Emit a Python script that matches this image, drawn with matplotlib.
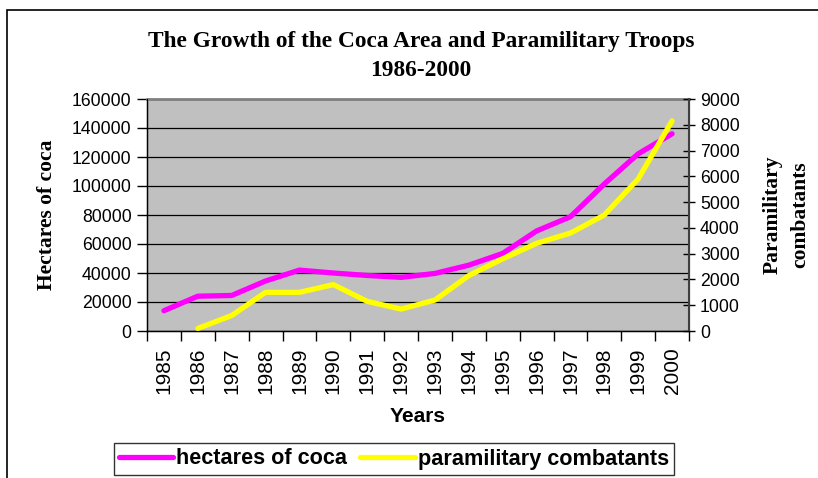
import matplotlib
matplotlib.use("Agg")
import matplotlib.pyplot as plt
import numpy as np
from matplotlib.patches import Rectangle

years = ["1985", "1986", "1987", "1988", "1989", "1990", "1991", "1992",
         "1993", "1994", "1995", "1996", "1997", "1998", "1999", "2000"]
hectares = [14000, 24000, 24500, 34500, 42000, 40000, 38300, 37000,
            39700, 45400, 53500, 69000, 78800, 101400, 122200, 136000]
combatants = [np.nan, 100, 600, 1500, 1500, 1800, 1150, 850,
              1200, 2150, 2800, 3400, 3800, 4500, 5900, 8150]

W, H = 818, 478
fig = plt.figure(figsize=(W / 100, H / 100), dpi=100)
fig.patch.set_facecolor("white")

# outer chart frame
fig.add_artist(Rectangle((7 / W, -0.05), 1.2, 1 - 10 / H + 0.05,
                         transform=fig.transFigure, fill=False,
                         edgecolor="black", linewidth=1.2))

L, R, T, B = 147, 689, 99, 331
ax = fig.add_axes([L / W, 1 - B / H, (R - L) / W, (B - T) / H])
ax.set_facecolor("#C0C0C0")
x = np.arange(len(years))

serif = ["Liberation Serif", "DejaVu Serif"]
sans = ["Liberation Sans", "DejaVu Sans"]

l1, = ax.plot(x, hectares, color="#FF00FF", linewidth=3.8,
              solid_capstyle="round", label="hectares of coca", zorder=3)
ax.set_ylim(0, 160000)
ax.set_yticks(np.arange(0, 160001, 20000))
ax.set_xlim(-0.5, len(years) - 0.5)
ax.set_xticks(x)
ax.set_xticklabels(years, rotation=90, fontsize=15, family=sans)
ax.set_xticks(np.arange(-0.5, len(years), 1.0), minor=True)
ax.tick_params(axis="x", which="major", length=0, pad=12)
ax.tick_params(axis="x", which="minor", length=7, width=1, direction="out")
ax.tick_params(axis="y", length=7, width=1, direction="out", labelsize=12.7, pad=4)
for lab in ax.get_yticklabels():
    lab.set_family(sans)
ax.grid(axis="y", color="black", linewidth=0.9)
ax.set_axisbelow(True)
ax.spines["top"].set_color("#808080")
ax.spines["top"].set_linewidth(2)
ax.spines["left"].set_linewidth(1)
ax.spines["bottom"].set_linewidth(1)

ax2 = ax.twinx()
l2, = ax2.plot(x, combatants, color="#FFFF00", linewidth=3.8,
               solid_capstyle="round", label="paramilitary combatants", zorder=3)
ax2.set_ylim(0, 9000)
ax2.set_yticks(np.arange(0, 9001, 1000))
ax2.tick_params(axis="y", length=8, width=1, direction="inout", labelsize=12.7, pad=4)
for lab in ax2.get_yticklabels():
    lab.set_family(sans)
ax2.spines["right"].set_color("#404040")
ax2.spines["right"].set_linewidth(1.5)
ax2.spines["top"].set_visible(False)

fig.text(421 / W, 1 - 42 / H, "The Growth of the Coca Area and Paramilitary Troops",
         ha="center", va="center", fontsize=16.8, fontweight="bold", family=serif)
fig.text(421 / W, 1 - 70 / H, "1986-2000",
         ha="center", va="center", fontsize=16.8, fontweight="bold", family=serif)
fig.text(47 / W, 1 - 215 / H, "Hectares of coca", rotation=90,
         ha="center", va="center", fontsize=15.5, fontweight="bold", family=serif)
fig.text(786 / W, 1 - 215 / H, "Paramilitary\ncombatants", rotation=90,
         ha="center", va="center", fontsize=15.5, fontweight="bold", family=serif,
         multialignment="center", linespacing=1.5)
fig.text(418 / W, 1 - 416 / H, "Years", ha="center", va="center",
         fontsize=15, fontweight="bold", family=sans)

leg = fig.legend(handles=[l1, l2], loc="center", ncol=2,
                 bbox_to_anchor=(394 / W, 1 - 459 / H),
                 prop={"family": sans, "weight": "bold", "size": 15.6},
                 frameon=True, fancybox=False, handlelength=2.5,
                 handletextpad=0.15, columnspacing=0.6, borderpad=0.25,
                 borderaxespad=0)
leg.get_frame().set_edgecolor("black")
leg.get_frame().set_linewidth(1)

fig.savefig("out.png", dpi=100)
